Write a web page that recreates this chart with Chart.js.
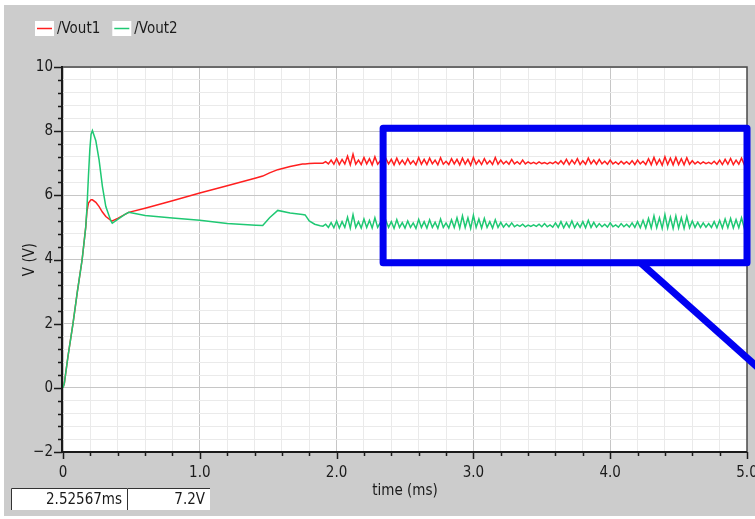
<!DOCTYPE html>
<html>
<head>
<meta charset="utf-8">
<script src="https://cdn.jsdelivr.net/npm/chart.js@4"></script>
<style>
  html, body { margin: 0; padding: 0; background: #fff; }
  canvas { display: block; }
</style>
</head>
<body>
<canvas id="chart" width="755" height="519"></canvas>
<script>
const seriesNames = ['/Vout1', '/Vout2'];
const seriesColors = ['#ff1f1f', '#1fc873'];

// transient result, time in ms
const timeMs = [
  0, 0.01, 0.037, 0.073, 0.105, 0.14, 0.166, 0.175, 0.186, 0.196,
  0.205, 0.215, 0.24, 0.264, 0.288, 0.313, 0.35, 0.36, 0.4, 0.45,
  0.48, 0.6, 0.8, 1.0, 1.2, 1.41, 1.46, 1.51, 1.57, 1.66,
  1.75, 1.77, 1.8, 1.84, 1.88,
  1.90, 1.92, 1.94, 1.96, 1.98,
  2.00, 2.02, 2.04, 2.06, 2.08, 2.10, 2.12, 2.14, 2.16, 2.18,
  2.20, 2.22, 2.24, 2.26, 2.28, 2.30, 2.32, 2.34, 2.36, 2.38,
  2.40, 2.42, 2.44, 2.46, 2.48, 2.50, 2.52, 2.54, 2.56, 2.58,
  2.60, 2.62, 2.64, 2.66, 2.68, 2.70, 2.72, 2.74, 2.76, 2.78,
  2.80, 2.82, 2.84, 2.86, 2.88, 2.90, 2.92, 2.94, 2.96, 2.98,
  3.00, 3.02, 3.04, 3.06, 3.08, 3.10, 3.12, 3.14, 3.16, 3.18,
  3.20, 3.22, 3.24, 3.26, 3.28, 3.30, 3.32, 3.34, 3.36, 3.38,
  3.40, 3.42, 3.44, 3.46, 3.48, 3.50, 3.52, 3.54, 3.56, 3.58,
  3.60, 3.62, 3.64, 3.66, 3.68, 3.70, 3.72, 3.74, 3.76, 3.78,
  3.80, 3.82, 3.84, 3.86, 3.88, 3.90, 3.92, 3.94, 3.96, 3.98,
  4.00, 4.02, 4.04, 4.06, 4.08, 4.10, 4.12, 4.14, 4.16, 4.18,
  4.20, 4.22, 4.24, 4.26, 4.28, 4.30, 4.32, 4.34, 4.36, 4.38,
  4.40, 4.42, 4.44, 4.46, 4.48, 4.50, 4.52, 4.54, 4.56, 4.58,
  4.60, 4.62, 4.64, 4.66, 4.68, 4.70, 4.72, 4.74, 4.76, 4.78,
  4.80, 4.82, 4.84, 4.86, 4.88, 4.90, 4.92, 4.94, 4.96, 4.98,
  5.00
];

const vout1 = [
  0, 0.15, 1.0, 2.0, 3.0, 4.0, 5.0, 5.5, 5.76, 5.82,
  5.86, 5.86, 5.78, 5.65, 5.48, 5.34, 5.22, 5.2, 5.28, 5.4,
  5.47, 5.6, 5.83, 6.07, 6.3, 6.54, 6.6, 6.7, 6.8, 6.9,
  6.98, 6.98, 6.99, 7.0, 7.0,
  7.00, 7.05, 6.98, 7.10, 6.97, 7.15, 6.96, 7.12, 6.98, 7.22,
  6.95, 7.28, 6.97, 7.10, 6.96, 7.18, 6.98, 7.14, 6.95, 7.20,
  6.97, 7.08, 6.96, 7.15, 6.98, 7.12, 6.95, 7.16, 6.97, 7.10,
  6.96, 7.14, 6.98, 7.08, 6.95, 7.18, 6.97, 7.12, 6.96, 7.16,
  6.98, 7.10, 6.95, 7.17, 6.97, 7.06, 6.96, 7.14, 6.98, 7.12,
  6.95, 7.16, 6.97, 7.12, 6.94, 7.18, 6.97, 7.10, 6.96, 7.14,
  6.98, 7.08, 6.96, 7.18, 6.97, 7.10, 6.98, 7.06, 6.97, 7.12,
  6.98, 7.05, 6.97, 7.10, 6.98, 7.04, 6.99, 7.03, 6.98, 7.04,
  6.99, 7.02, 6.98, 7.03, 6.99, 7.05, 6.98, 7.08, 6.97, 7.12,
  6.96, 7.10, 6.98, 7.14, 6.96, 7.08, 6.97, 7.16, 6.98, 7.10,
  6.97, 7.12, 6.98, 7.06, 6.97, 7.10, 6.98, 7.04, 6.97, 7.06,
  6.98, 7.05, 6.97, 7.08, 6.96, 7.10, 6.98, 7.06, 6.96, 7.14,
  6.95, 7.18, 6.96, 7.12, 6.94, 7.20, 6.96, 7.16, 6.95, 7.18,
  6.96, 7.14, 6.95, 7.17, 6.97, 7.08, 6.98, 7.05, 6.98, 7.04,
  6.99, 7.03, 6.98, 7.06, 6.97, 7.10, 6.96, 7.12, 6.97, 7.15,
  6.96, 7.10, 6.97, 7.16, 6.96, 7.02
];

const vout2 = [
  0, 0.15, 1.0, 2.0, 3.0, 4.0, 5.0, 5.6, 6.6, 7.42,
  7.9, 8.02, 7.7, 7.1, 6.28, 5.65, 5.2, 5.13, 5.25, 5.4,
  5.47, 5.37, 5.29, 5.22, 5.12, 5.07, 5.06, 5.3, 5.53, 5.45,
  5.40, 5.39, 5.2, 5.1, 5.05,
  5.04, 5.10, 5.00, 5.15, 4.99, 5.20, 4.98, 5.18, 5.00, 5.32,
  4.98, 5.40, 5.00, 5.18, 4.98, 5.26, 5.00, 5.22, 4.98, 5.30,
  5.00, 5.15, 4.98, 5.22, 5.00, 5.18, 4.97, 5.24, 5.00, 5.15,
  4.98, 5.20, 5.00, 5.14, 4.97, 5.25, 5.00, 5.18, 4.98, 5.24,
  5.00, 5.16, 4.97, 5.26, 5.00, 5.14, 4.98, 5.24, 5.00, 5.30,
  4.98, 5.36, 5.00, 5.30, 4.97, 5.38, 5.00, 5.26, 4.98, 5.28,
  5.00, 5.18, 4.98, 5.24, 5.00, 5.16, 5.01, 5.12, 5.02, 5.14,
  5.02, 5.08, 5.03, 5.10, 5.02, 5.07, 5.03, 5.08, 5.03, 5.10,
  5.02, 5.12, 5.02, 5.08, 5.01, 5.14, 5.00, 5.18, 4.99, 5.15,
  5.00, 5.20, 4.99, 5.14, 5.00, 5.18, 4.99, 5.22, 5.00, 5.16,
  5.01, 5.12, 5.02, 5.10, 5.01, 5.14, 5.02, 5.08, 5.01, 5.12,
  5.02, 5.10, 5.01, 5.14, 5.00, 5.18, 4.99, 5.22, 4.98, 5.28,
  4.98, 5.36, 4.99, 5.30, 4.97, 5.40, 4.98, 5.32, 4.97, 5.36,
  4.98, 5.30, 4.97, 5.34, 4.99, 5.20, 5.00, 5.16, 5.00, 5.14,
  5.01, 5.12, 5.00, 5.18, 4.99, 5.22, 4.98, 5.26, 4.99, 5.28,
  4.98, 5.24, 4.99, 5.30, 4.98, 5.12
];

const xTickValues = [0, 1, 2, 3, 4, 5];
const xTickLabels = ['0', '1.0', '2.0', '3.0', '4.0', '5.0'];
const yTickValues = [-2, 0, 2, 4, 6, 8, 10];
const yTickLabels = ['\u22122', '0', '2', '4', '6', '8', '10'];
const cursorReadout = ['2.52567ms', '7.2V'];

// blue zoom marker drawn over the plot, in data units (ms, V)
const zoomBox = { t0: 2.34, t1: 5.0, v0: 3.9, v1: 8.09 };
const zoomLead = { t0: 4.22, v0: 3.9, t1: 5.18, v1: 0.25 };

const FONT = '"DejaVu Sans Condensed", "DejaVu Sans", sans-serif';
Chart.defaults.font.family = FONT;
Chart.defaults.font.size = 15;
Chart.defaults.color = '#1a1a1a';

function findIndex(values, v) {
  return values.findIndex(x => Math.abs(x - v) < 1e-6);
}

function gridColor(values) {
  return (c) => (c.tick && findIndex(values, c.tick.value) >= 0) ? '#c6c6c6' : '#eaeaea';
}

const waveformPlugin = {
  id: 'waveform',
  beforeDraw(chart) {
    const { ctx, chartArea: a } = chart;
    ctx.save();
    ctx.fillStyle = '#ffffff';
    ctx.fillRect(0, 0, chart.width, chart.height);
    ctx.fillStyle = '#cccccc';
    ctx.fillRect(4, 5, chart.width - 4, 511);
    ctx.fillStyle = '#ffffff';
    ctx.fillRect(a.left, a.top, a.right - a.left, a.bottom - a.top);
    ctx.restore();
  },
  afterDraw(chart) {
    const { ctx, chartArea: a } = chart;
    const xs = chart.scales.x, ys = chart.scales.y;
    ctx.save();

    // frame
    ctx.strokeStyle = '#4a4a4a';
    ctx.lineWidth = 1.5;
    ctx.beginPath();
    ctx.moveTo(a.left, a.top);
    ctx.lineTo(a.right, a.top);
    ctx.lineTo(a.right, a.bottom);
    ctx.stroke();
    ctx.strokeStyle = '#1a1a1a';
    ctx.lineWidth = 2;
    ctx.beginPath();
    ctx.moveTo(a.left - 1, a.top - 1);
    ctx.lineTo(a.left - 1, a.bottom);
    ctx.lineTo(a.right, a.bottom);
    ctx.stroke();

    // ticks, long on labelled values
    ctx.lineWidth = 1.5;
    ctx.beginPath();
    xs.ticks.forEach(t => {
      const px = Math.round(xs.getPixelForValue(t.value)) + 0.5;
      const len = findIndex(xTickValues, t.value) >= 0 ? 7 : 4;
      ctx.moveTo(px, a.bottom);
      ctx.lineTo(px, a.bottom + len);
    });
    ys.ticks.forEach(t => {
      const py = Math.round(ys.getPixelForValue(t.value)) + 0.5;
      const len = findIndex(yTickValues, t.value) >= 0 ? 8 : 4;
      ctx.moveTo(a.left - 1, py);
      ctx.lineTo(a.left - 1 - len, py);
    });
    ctx.stroke();

    // legend
    ctx.font = '15px ' + FONT;
    ctx.textBaseline = 'middle';
    let lx = 35;
    chart.data.datasets.forEach(ds => {
      ctx.fillStyle = '#ffffff';
      ctx.fillRect(lx, 21, 19, 15);
      ctx.strokeStyle = ds.borderColor;
      ctx.lineWidth = 1.5;
      ctx.beginPath();
      ctx.moveTo(lx + 2, 28.5);
      ctx.lineTo(lx + 17, 28.5);
      ctx.stroke();
      ctx.fillStyle = '#1a1a1a';
      ctx.textAlign = 'left';
      ctx.fillText(ds.label, lx + 22, 29);
      lx += 22 + ctx.measureText(ds.label).width + 12;
    });

    // cursor readout boxes
    const boxes = [[11, 116], [127, 83]];
    boxes.forEach(([bx, bw], i) => {
      ctx.fillStyle = '#ffffff';
      ctx.fillRect(bx, 488, bw, 22);
      ctx.strokeStyle = '#333333';
      ctx.lineWidth = 1;
      ctx.beginPath();
      ctx.moveTo(bx + 0.5, 510);
      ctx.lineTo(bx + 0.5, 488.5);
      ctx.lineTo(bx + bw, 488.5);
      ctx.stroke();
      ctx.fillStyle = '#1a1a1a';
      ctx.textAlign = 'right';
      ctx.fillText(cursorReadout[i], bx + bw - 5, 500);
    });

    // blue zoom marker
    ctx.strokeStyle = '#0000f2';
    ctx.lineWidth = 7;
    ctx.lineJoin = 'round';
    const bx0 = xs.getPixelForValue(zoomBox.t0), bx1 = xs.getPixelForValue(zoomBox.t1);
    const by0 = ys.getPixelForValue(zoomBox.v1), by1 = ys.getPixelForValue(zoomBox.v0);
    ctx.strokeRect(bx0, by0, bx1 - bx0, by1 - by0);
    ctx.beginPath();
    ctx.moveTo(xs.getPixelForValue(zoomLead.t0), ys.getPixelForValue(zoomLead.v0));
    ctx.lineTo(xs.getPixelForValue(zoomLead.t1), ys.getPixelForValue(zoomLead.v1));
    ctx.stroke();

    ctx.restore();
  }
};

function makeSeries(values) {
  return timeMs.map((t, i) => ({ x: t, y: values[i] }));
}

const ctx = document.getElementById('chart').getContext('2d');
new Chart(ctx, {
  type: 'line',
  data: {
    datasets: [
      { label: seriesNames[0], data: makeSeries(vout1), borderColor: seriesColors[0], order: 1 },
      { label: seriesNames[1], data: makeSeries(vout2), borderColor: seriesColors[1], order: 0 }
    ]
  },
  options: {
    responsive: false,
    animation: false,
    events: [],
    layout: { padding: { left: 0, top: 67, right: 8, bottom: 0 } },
    elements: {
      line: { borderWidth: 1.5, tension: 0 },
      point: { radius: 0 }
    },
    plugins: { legend: { display: false }, tooltip: { enabled: false } },
    scales: {
      x: {
        type: 'linear',
        min: 0,
        max: 5,
        afterFit(s) { s.height = 67; s.paddingLeft = 0; s.paddingRight = 0; },
        ticks: {
          stepSize: 0.2,
          autoSkip: false,
          maxRotation: 0,
          padding: 12,
          callback: v => { const i = findIndex(xTickValues, v); return i < 0 ? '' : xTickLabels[i]; }
        },
        grid: { color: gridColor(xTickValues), drawTicks: false },
        border: { display: false },
        title: { display: true, text: 'time (ms)', padding: { top: 0, bottom: 19 } }
      },
      y: {
        type: 'linear',
        min: -2,
        max: 10,
        afterFit(s) { s.width = 63; },
        ticks: {
          stepSize: 0.4,
          autoSkip: false,
          padding: 10,
          callback: v => { const i = findIndex(yTickValues, v); return i < 0 ? '' : yTickLabels[i]; }
        },
        grid: { color: gridColor(yTickValues), drawTicks: false },
        border: { display: false },
        title: { display: true, text: 'V (V)', padding: { top: 21, bottom: 0 } }
      }
    }
  },
  plugins: [waveformPlugin]
});
</script>
</body>
</html>
